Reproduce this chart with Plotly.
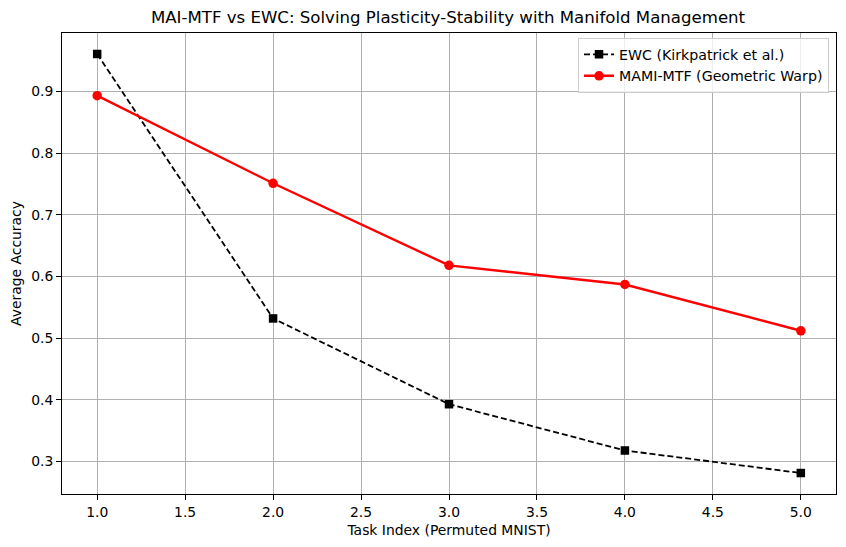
import plotly.graph_objects as go

tasks = [1, 2, 3, 4, 5]
ewc_acc = [0.9605, 0.532, 0.393, 0.318, 0.2815]
mami_acc = [0.893, 0.751, 0.618, 0.587, 0.512]

x_ticks = [1.0, 1.5, 2.0, 2.5, 3.0, 3.5, 4.0, 4.5, 5.0]
y_ticks = [0.3, 0.4, 0.5, 0.6, 0.7, 0.8, 0.9]

fig = go.Figure()
fig.add_trace(go.Scatter(
    x=tasks, y=ewc_acc, mode="lines+markers",
    name="EWC (Kirkpatrick et al.)",
    line=dict(color="black", width=1.8, dash="6px,3px"),
    marker=dict(symbol="square", size=8.5, color="black"),
))
fig.add_trace(go.Scatter(
    x=tasks, y=mami_acc, mode="lines+markers",
    name="MAMI-MTF (Geometric Warp)",
    line=dict(color="red", width=2.4),
    marker=dict(symbol="circle", size=9.5, color="red"),
))

axis_common = dict(
    showline=True, linecolor="black", linewidth=1, mirror=True,
    ticks="outside", ticklen=5, tickcolor="black", tickwidth=1,
    showgrid=True, gridcolor="#b0b0b0", gridwidth=1,
    zeroline=False, tickfont=dict(size=13.9, color="black"),
    automargin=False,
)

fig.update_layout(
    width=846, height=547,
    margin=dict(l=54, r=18, t=25, b=61),
    paper_bgcolor="white", plot_bgcolor="white",
    font=dict(family="DejaVu Sans", color="black"),
    title=dict(text="MAI-MTF vs EWC: Solving Plasticity-Stability with Manifold Management",
               x=(448 - 8) / 846, xanchor="center", y=1 - 9 / 547, yanchor="middle",
               font=dict(size=16.6, color="black")),
    xaxis=dict(range=[0.8, 5.2], tickvals=x_ticks,
               ticktext=[f"{v:.1f}" for v in x_ticks],
               title=dict(text="Task Index (Permuted MNIST)", font=dict(size=13.9), standoff=6),
               **axis_common),
    yaxis=dict(range=[0.2475, 0.9945], tickvals=y_ticks,
               ticktext=[f"{v:.1f}" for v in y_ticks],
               title=dict(text="Average Accuracy", font=dict(size=13.9), standoff=10),
               **axis_common),
    legend=dict(x=0.991, y=0.99, xanchor="right", yanchor="top",
                bgcolor="rgba(255,255,255,0.8)", bordercolor="#cccccc", borderwidth=1,
                font=dict(size=14.2), tracegroupgap=0),
    showlegend=True,
)

fig.write_html("out.html")
